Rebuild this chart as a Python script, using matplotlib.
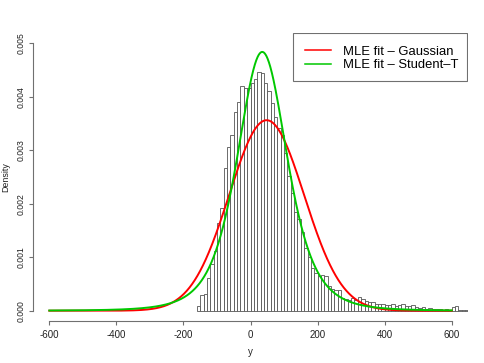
import math
import numpy as np
import matplotlib
matplotlib.use("Agg")
import matplotlib.pyplot as plt
from matplotlib.patches import Rectangle

plt.rcParams["font.family"] = ["Liberation Sans", "DejaVu Sans"]
plt.rcParams["axes.unicode_minus"] = False

# histogram (density), bins of width 10 starting at -160
bin_start = -160
bin_width = 10
density = [
    0.00009, 0.00029, 0.00031, 0.00062, 0.00087, 0.00112, 0.00164, 0.00192,
    0.00266, 0.00306, 0.00328, 0.00372, 0.00390, 0.00421, 0.00416, 0.00416,
    0.00425, 0.00433, 0.00447, 0.00444, 0.00426, 0.00410, 0.00388, 0.00363,
    0.00341, 0.00329, 0.00295, 0.00252, 0.00221, 0.00185, 0.00171, 0.00148,
    0.00117, 0.00100, 0.00079, 0.00070, 0.00065, 0.00066, 0.00064, 0.00046,
    0.00040, 0.00039, 0.00038, 0.00024, 0.00022, 0.00020, 0.00024, 0.00020,
    0.00025, 0.00022, 0.00018, 0.00017, 0.00016, 0.00013, 0.00012, 0.00013,
    0.00010, 0.00010, 0.00012, 0.00008, 0.00010, 0.00012, 0.00008, 0.00009,
    0.00010, 0.00006, 0.00005, 0.00006, 0.00004, 0.00005, 0.00004, 0.00004,
    0.00003, 0.00002, 0.00003, 0.00002, 0.00006, 0.00008, 0.00002, 0.00002,
    0.00002,
]

# fitted parameters
gauss_mu, gauss_sigma = 48.0, 112.0
t_mu, t_scale, t_df = 35.0, 77.5, 4.0

legend_labels = ["MLE fit \u2013 Gaussian", "MLE fit \u2013 Student\u2013T"]
xticks = [-600, -400, -200, 0, 200, 400, 600]
yticks = [0.000, 0.001, 0.002, 0.003, 0.004, 0.005]


def gauss_pdf(x, mu, s):
    return np.exp(-0.5 * ((x - mu) / s) ** 2) / (s * math.sqrt(2 * math.pi))


def t_pdf(x, mu, s, nu):
    c = math.gamma((nu + 1) / 2) / (math.gamma(nu / 2) * math.sqrt(nu * math.pi) * s)
    return c * (1 + ((x - mu) / s) ** 2 / nu) ** (-(nu + 1) / 2)


fig = plt.figure(figsize=(4.85, 3.63), dpi=100)
ax = fig.add_axes([0.0685, 0.1146, 0.896, 0.7956])

lefts = bin_start + bin_width * np.arange(len(density))
ax.bar(lefts, density, width=bin_width, align="edge", facecolor="white",
       edgecolor="#555555", linewidth=0.6)

xs = np.linspace(-600, 600, 1201)
l1, = ax.plot(xs, gauss_pdf(xs, gauss_mu, gauss_sigma), color="#ff0000", lw=1.4)
l2, = ax.plot(xs, t_pdf(xs, t_mu, t_scale, t_df), color="#00c800", lw=1.4)

ax.set_xlim(-648, 648)
ax.set_ylim(-0.0002, 0.0052)

for s in ["top", "right"]:
    ax.spines[s].set_visible(False)
ax.spines["bottom"].set_bounds(-600, 600)
ax.spines["left"].set_bounds(0, 0.005)
for s in ["bottom", "left"]:
    ax.spines[s].set_color("#707070")
    ax.spines[s].set_linewidth(0.8)

ax.set_xticks(xticks)
ax.set_xticklabels([str(v) for v in xticks], fontsize=7)
ax.set_yticks(yticks)
ax.set_yticklabels(["%.3f" % v for v in yticks], fontsize=6.2,
                   rotation=90, va="center")
ax.tick_params(direction="out", length=3.2, width=0.8, color="#707070",
               labelcolor="#222222")
ax.tick_params(axis="x", pad=3.0)
ax.tick_params(axis="y", pad=2.2)

ax.set_xlabel("y", fontsize=7, color="#222222")
ax.xaxis.set_label_coords(0.5, -0.105)
ax.xaxis.label.set_va("center")
ax.set_ylabel("Density", fontsize=6.4, color="#222222")
ax.yaxis.set_label_coords(-0.0625, 0.5)
ax.yaxis.label.set_va("center")

# legend box
ax.add_patch(Rectangle((0.5985, 0.8324), 0.399, 0.1676, transform=ax.transAxes,
                       facecolor="white", edgecolor="#707070", linewidth=0.8,
                       zorder=4))
leg = ax.legend([l1, l2], legend_labels, loc="upper left",
                bbox_to_anchor=(0.6254, 0.955), frameon=False, borderpad=0,
                borderaxespad=0, handlelength=2.0, handletextpad=0.9,
                labelspacing=0.12, fontsize=9.4)
leg.set_zorder(5)
for h in leg.legend_handles:
    h.set_linewidth(1.1)

fig.savefig("out.png", dpi=100, facecolor="white")
